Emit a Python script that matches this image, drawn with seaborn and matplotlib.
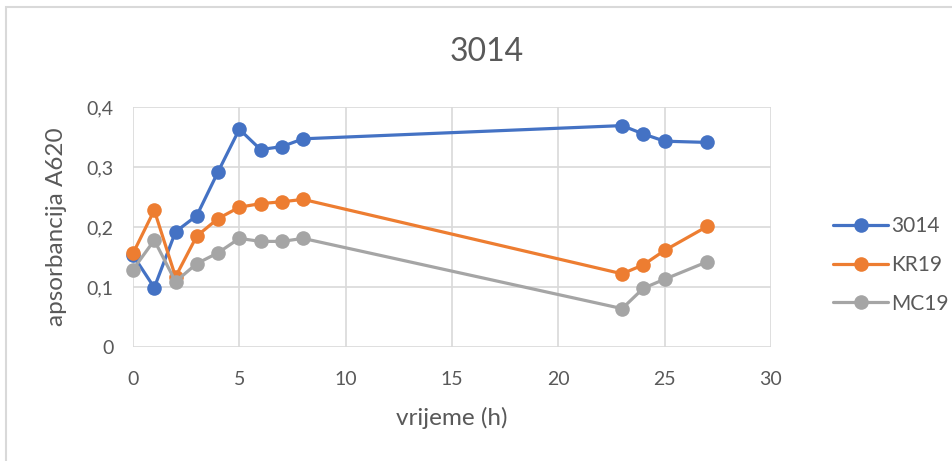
import matplotlib
matplotlib.use("Agg")
import matplotlib.pyplot as plt
import seaborn as sns
import pandas as pd
from matplotlib.ticker import FixedLocator, FuncFormatter
from matplotlib.lines import Line2D
from matplotlib.patches import Rectangle

# ---- data ----
time_h = [0, 1, 2, 3, 4, 5, 6, 7, 8, 23, 24, 25, 27]
s3014 = [0.153, 0.099, 0.192, 0.219, 0.292, 0.363, 0.329, 0.334, 0.347, 0.369, 0.355, 0.343, 0.341]
kr19 = [0.156, 0.228, 0.117, 0.185, 0.214, 0.233, 0.239, 0.242, 0.246, 0.122, 0.137, 0.161, 0.201]
mc19 = [0.129, 0.178, 0.109, 0.139, 0.157, 0.181, 0.176, 0.176, 0.181, 0.064, 0.098, 0.113, 0.142]
series_names = ["3014", "KR19", "MC19"]
colors = ["#4472C4", "#ED7D31", "#A5A5A5"]
x_ticks = [0, 5, 10, 15, 20, 25, 30]
y_ticks = [0, 0.1, 0.2, 0.3, 0.4]
title = "3014"
x_label = "vrijeme (h)"
y_label = "apsorbancija A620"

rows = []
for name, vals in zip(series_names, [s3014, kr19, mc19]):
    for t, v in zip(time_h, vals):
        rows.append({"time": t, "value": v, "series": name})
df = pd.DataFrame(rows)

sns.set_theme(style="white")
plt.rcParams["font.family"] = ["Lato", "DejaVu Sans"]
text_color = "#595959"
grid_color = "#D9D9D9"

fig = plt.figure(figsize=(9.53, 4.61), dpi=100)
ax = fig.add_axes([133 / 953, 1 - 347 / 461, 638 / 953, 240 / 461])

sns.lineplot(data=df, x="time", y="value", hue="series", hue_order=series_names,
             palette=colors, marker="o", markersize=10.5, markeredgewidth=0,
             linewidth=2.3, ax=ax, legend=False, sort=False)
for ln in ax.lines:
    ln.set_clip_on(False)

ax.set_xlim(0, 30)
ax.set_ylim(0, 0.4)
ax.xaxis.set_major_locator(FixedLocator(x_ticks))
ax.yaxis.set_major_locator(FixedLocator(y_ticks))
ax.yaxis.set_major_formatter(FuncFormatter(lambda v, p: "0" if v == 0 else f"{v:.1f}".replace(".", ",")))
ax.xaxis.set_major_formatter(FuncFormatter(lambda v, p: f"{int(v)}"))
ax.grid(True, color=grid_color, linewidth=1.2)
ax.set_axisbelow(True)
for s in ax.spines.values():
    s.set_visible(False)
ax.tick_params(axis="both", length=0, labelsize=14, labelcolor=text_color)
ax.tick_params(axis="x", pad=17)
ax.tick_params(axis="y", pad=14)

ax.set_xlabel(x_label, fontsize=17.5, color=text_color)
ax.xaxis.label.set_va("center")
ax.xaxis.set_label_coords(0.5, (347 - 418) / 240)
ax.set_ylabel(y_label, fontsize=17.5, color=text_color, rotation=90,
              rotation_mode="default", va="center", ha="center")
ax.yaxis.set_label_coords((57 - 133) / 638, 0.5)

fig.text(487 / 953, 1 - 52 / 461, title, fontsize=23, color=text_color, ha="center", va="center")

handles = [Line2D([0], [0], color=c, linewidth=2.3, marker="o", markersize=10.5, markeredgewidth=0)
           for c in colors]
ax.legend(handles, series_names, loc="center left", bbox_to_anchor=((823 - 8.3) / 953, 1 - 265 / 461),
          bbox_transform=fig.transFigure, frameon=False, fontsize=15, labelcolor=text_color,
          handlelength=2.6, handletextpad=0.15, labelspacing=0.9)

fig.patches.append(Rectangle((6 / 953, -0.1), 1.2, 1 - 7 / 461 + 0.1, transform=fig.transFigure,
                             fill=False, edgecolor="#D9D9D9", linewidth=1.5, figure=fig))

fig.savefig("out.png", dpi=100, facecolor="white")
